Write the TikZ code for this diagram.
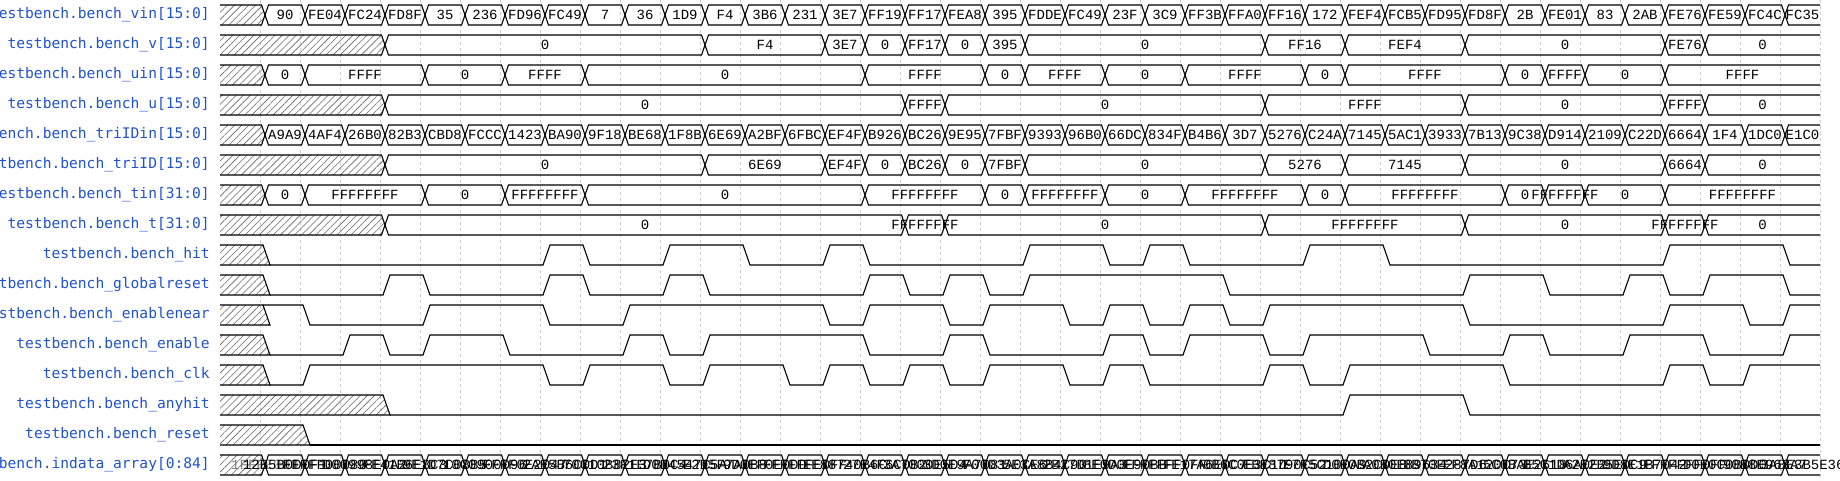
\documentclass[tikz,border=0pt]{standalone}
\usepackage{fontspec}
\usetikzlibrary{patterns.meta}
\newfontfamily\labfont{DejaVu Sans Mono}
\newfontfamily\valfont{Liberation Mono}
\definecolor{labblue}{RGB}{32,82,204}
\definecolor{gridc}{RGB}{205,205,205}
\tikzset{
 wave/.style={line width=1.1pt, black, line join=miter},
 hatchfill/.style={pattern={Lines[angle=45,distance=5pt,line width=0.6pt]}, pattern color=black!60},
 val/.style={font=\valfont\fontsize{14}{16}\selectfont, inner sep=0pt},
 lab/.style={font=\labfont\fontsize{14.6}{16}\selectfont, text=labblue, anchor=east, inner sep=0pt},
 gridline/.style={gridc, dash pattern=on 3pt off 3pt, line width=0.8pt}
}
% bus row: #1 row index, #2 hatch end step, #3 list a/b/value
\newcommand\busrow[3]{%
  \pgfmathsetmacro\yt{5+30*#1}\pgfmathsetmacro\yb{25+30*#1}\pgfmathsetmacro\ym{15+30*#1}%
  \pgfmathsetmacro\hc{225+40*#2}%
  \fill[hatchfill] (220,\yt) -- (\hc-3.5,\yt) -- (\hc,\ym) -- (\hc-3.5,\yb) -- (220,\yb) -- cycle;
  \draw[wave] (220,\yt) -- (\hc-3.5,\yt) -- (\hc,\ym) -- (\hc-3.5,\yb) -- (220,\yb);
  \foreach \a/\b/\v in {#3}{%
    \pgfmathsetmacro\ca{225+40*\a}%
    \ifnum\b=40
      \draw[wave] (1820,\yt) -- (\ca+3.5,\yt) -- (\ca,\ym) -- (\ca+3.5,\yb) -- (1820,\yb);
      \node[val] (c#1-\a) at ({(\ca+1820)/2},\ym) {\v};
    \else
      \pgfmathsetmacro\cb{225+40*\b}%
      \draw[wave] (\ca,\ym) -- (\ca+3.5,\yt) -- (\cb-3.5,\yt) -- (\cb,\ym) -- (\cb-3.5,\yb) -- (\ca+3.5,\yb) -- cycle;
      \node[val] (c#1-\a) at ({(\ca+\cb)/2},\ym) {\v};
    \fi
  }%
}
% bit row: #1 row, #2 hatch end, #3 initial level, #4 toggle steps
\newcommand\bitrow[4]{%
  \pgfmathsetmacro\yt{5+30*#1}\pgfmathsetmacro\yb{25+30*#1}%
  \pgfmathsetmacro\xh{220+40*#2}%
  \fill[hatchfill] (220,\yt) -- (\xh+3,\yt) -- (\xh+10,\yb) -- (220,\yb) -- cycle;
  \draw[wave] (220,\yt) -- (\xh+3,\yt) -- (\xh+10,\yb) -- (220,\yb);
  \ifnum#3=1 \xdef\wpath{(\xh+3,\yt)}\gdef\lvl{1}\else \xdef\wpath{(\xh+10,\yb)}\gdef\lvl{0}\fi
  \foreach \k in {#4}{%
     \pgfmathsetmacro\xa{220+40*\k+3}\pgfmathsetmacro\xb{220+40*\k+10}%
     \ifnum\lvl=1 \xdef\wpath{\wpath -- (\xa,\yt) -- (\xb,\yb)}\gdef\lvl{0}%
     \else \xdef\wpath{\wpath -- (\xa,\yb) -- (\xb,\yt)}\gdef\lvl{1}\fi}%
  \ifnum\lvl=1 \xdef\wpath{\wpath -- (1820,\yt)}\else \xdef\wpath{\wpath -- (1820,\yb)}\fi
  \draw[wave] \wpath;
}
\begin{document}
\begin{tikzpicture}[x=1pt,y=-1pt]
\useasboundingbox (0,0) rectangle (1840,480);
\clip (0,0) rectangle (1840,480);
% grid
\foreach \k in {1,...,40}{\draw[gridline] ({220+40*\k},0) -- ({220+40*\k},480);}
% labels
\node[lab] (l0) at (210,15) {testbench.bench\_vin[15:0]};
\node[lab] (l1) at (210,45) {testbench.bench\_v[15:0]};
\node[lab] (l2) at (210,75) {testbench.bench\_uin[15:0]};
\node[lab] (l3) at (210,105) {testbench.bench\_u[15:0]};
\node[lab] (l4) at (210,135) {testbench.bench\_triIDin[15:0]};
\node[lab] (l5) at (210,165) {testbench.bench\_triID[15:0]};
\node[lab] (l6) at (210,195) {testbench.bench\_tin[31:0]};
\node[lab] (l7) at (210,225) {testbench.bench\_t[31:0]};
\node[lab] (l8) at (210,255) {testbench.bench\_hit};
\node[lab] (l9) at (210,285) {testbench.bench\_globalreset};
\node[lab] (l10) at (210,315) {testbench.bench\_enablenear};
\node[lab] (l11) at (210,345) {testbench.bench\_enable};
\node[lab] (l12) at (210,375) {testbench.bench\_clk};
\node[lab] (l13) at (210,405) {testbench.bench\_anyhit};
\node[lab] (l14) at (210,435) {testbench.bench\_reset};
\node[lab] (l15) at (210,465) {testbench.indata\_array[0:84]};
% bus rows
\busrow{0}{1}{1/2/90,2/3/FE04,3/4/FC24,4/5/FD8F,5/6/35,6/7/236,7/8/FD96,8/9/FC49,9/10/7,10/11/36,11/12/1D9,12/13/F4,13/14/3B6,14/15/231,15/16/3E7,16/17/FF19,17/18/FF17,18/19/FEA8,19/20/395,20/21/FDDE,21/22/FC49,22/23/23F,23/24/3C9,24/25/FF3B,25/26/FFA0,26/27/FF16,27/28/172,28/29/FEF4,29/30/FCB5,30/31/FD95,31/32/FD8F,32/33/2B,33/34/FE01,34/35/83,35/36/2AB,36/37/FE76,37/38/FE59,38/39/FC4C,39/40/FC35}
\busrow{1}{4}{4/12/0,12/15/F4,15/16/3E7,16/17/0,17/18/FF17,18/19/0,19/20/395,20/26/0,26/28/FF16,28/31/FEF4,31/36/0,36/37/FE76,37/40/0}
\busrow{2}{1}{1/2/0,2/5/FFFF,5/7/0,7/9/FFFF,9/16/0,16/19/FFFF,19/20/0,20/22/FFFF,22/24/0,24/27/FFFF,27/28/0,28/32/FFFF,32/33/0,33/34/FFFF,34/36/0,36/40/FFFF}
\busrow{3}{4}{4/17/0,17/18/FFFF,18/26/0,26/31/FFFF,31/36/0,36/37/FFFF,37/40/0}
\busrow{4}{1}{1/2/A9A9,2/3/4AF4,3/4/26B0,4/5/82B3,5/6/CBD8,6/7/FCCC,7/8/1423,8/9/BA90,9/10/9F18,10/11/BE68,11/12/1F8B,12/13/6E69,13/14/A2BF,14/15/6FBC,15/16/EF4F,16/17/B926,17/18/BC26,18/19/9E95,19/20/7FBF,20/21/9393,21/22/96B0,22/23/66DC,23/24/834F,24/25/B4B6,25/26/3D7,26/27/5276,27/28/C24A,28/29/7145,29/30/5AC1,30/31/3933,31/32/7B13,32/33/9C38,33/34/D914,34/35/2109,35/36/C22D,36/37/6664,37/38/1F4,38/39/1DC0,39/40/E1C0}
\busrow{5}{4}{4/12/0,12/15/6E69,15/16/EF4F,16/17/0,17/18/BC26,18/19/0,19/20/7FBF,20/26/0,26/28/5276,28/31/7145,31/36/0,36/37/6664,37/40/0}
\busrow{6}{1}{1/2/0,2/5/FFFFFFFF,5/7/0,7/9/FFFFFFFF,9/16/0,16/19/FFFFFFFF,19/20/0,20/22/FFFFFFFF,22/24/0,24/27/FFFFFFFF,27/28/0,28/32/FFFFFFFF,32/33/0,33/34/FFFFFFFF,34/36/0,36/40/FFFFFFFF}
\busrow{7}{4}{4/17/0,17/18/FFFFFFFF,18/26/0,26/31/FFFFFFFF,31/36/0,36/37/FFFFFFFF,37/40/0}
% bit rows
\bitrow{8}{1}{0}{8,9,11,13,15,16,20,22,23,24,27,29,36,39}
\bitrow{9}{1}{0}{4,5,8,9,11,12,16,17,18,19,20,25,31,33,35,36,37,39}
\bitrow{10}{1}{1}{2,5,8,10,15,16,18,19,21,22,23,24,25,26,31,36,38,39}
\bitrow{11}{1}{0}{3,4,5,7,10,11,12,16,18,19,22,23,24,26,27,30,32,33,35,37,39}
\bitrow{12}{1}{0}{2,8,9,11,12,14,15,16,17,18,19,21,22,23,26,27,28,32,36,37,38}
\bitrow{13}{4}{0}{28,31}
% reset
\fill[hatchfill] (220,425) -- (303,425) -- (310,445) -- (220,445) -- cycle;
\draw[wave] (220,425) -- (303,425) -- (310,445) -- (220,445);
\draw[wave] (310,445) -- (1820,445);
% indata array
\node[val, text=black!50, anchor=west] (h15) at (231,465) {1FFFE0B0};
\busrow{15}{1}{1/2/12B5B0D0F1,2/3/FFFFF00080,3/4/D00998E0A2,4/5/FE41B6E8C3,5/6/9E1D7C08B5,6/7/10C0900D96,7/8/FFFF0E2047,8/9/2AE5B6C0D1,9/10/70C10B82E3,10/11/23F1E7B0C4,11/12/D0D4547C5A,12/13/E2D5F7A0B8,13/14/9D0EF0E0DD,14/15/FFFFFFE0FF,15/16/EE88740B6C,16/17/27E4F6C0B2,17/18/3A7000E5D4,18/19/3D0E9A7081,19/20/F00D3A0CE6,20/21/5E3A8B4C90,21/22/2B27D1E9A3,22/23/8E0D0E90BB,23/24/FFFFFFF0FF,24/25/FE17A6E0C7,25/26/0B6C0E3C1D,26/27/EBE8790C52,27/28/E7F5C100A9,28/29/D0E0B2C0E8,29/30/A0B0E89634,30/31/8B70E287D6,31/32/EF8A120C73,32/33/5C0BAE2618,33/34/B5C1D6A0E2,34/35/A2E2B5E0C9,35/36/9D8E1B7042,36/37/FFFFFFF0FF,37/38/D0E0C0B0D0,38/39/90B8E963A7,39/40/3A8E3B5E36}
\end{tikzpicture}
\end{document}
